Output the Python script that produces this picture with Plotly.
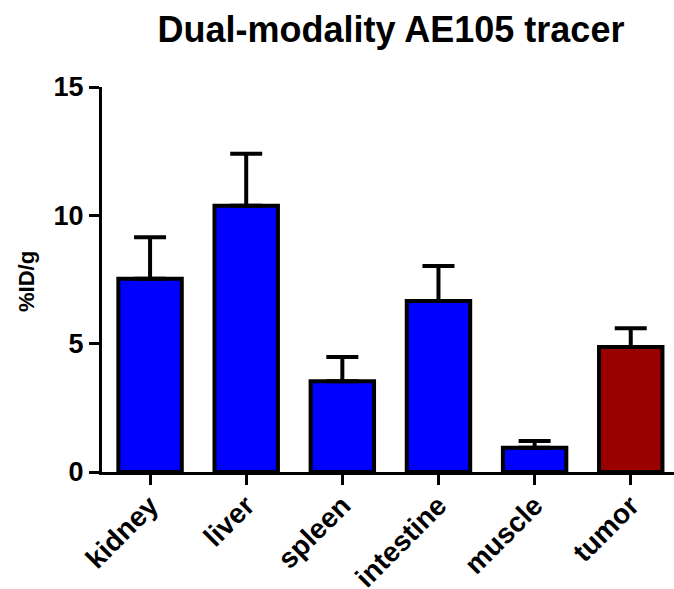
import plotly.graph_objects as go

categories = ["kidney", "liver", "spleen", "intestine", "muscle", "tumor"]
means = [7.53, 10.37, 3.54, 6.66, 0.94, 4.87]
errors = [1.62, 2.03, 0.94, 1.37, 0.27, 0.73]
colors = ["#0000FF", "#0000FF", "#0000FF", "#0000FF", "#0000FF", "#9B0000"]
y_ticks = [0, 5, 10, 15]

FONT = "Liberation Sans, Arial, sans-serif"
W, H = 674, 589
L, R, T, B = 102, 0, 87, 117
pw, ph = W - L - R, H - T - B

fig = go.Figure()
fig.add_trace(go.Bar(
    x=categories,
    y=means,
    width=0.66,
    marker=dict(color=colors, line=dict(color="black", width=4)),
    error_y=dict(type="data", symmetric=False, array=errors,
                 arrayminus=[0] * len(errors),
                 color="black", thickness=4, width=16),
))

fig.update_layout(
    width=W, height=H,
    margin=dict(l=L, r=R, t=T, b=B),
    paper_bgcolor="white", plot_bgcolor="white",
    showlegend=False,
    title=dict(text="Dual-modality AE105 tracer", x=391 / W, xref="container",
               xanchor="center", y=1 - 29 / H, yref="container", yanchor="middle",
               font=dict(family=FONT, size=36, color="black", weight="bold")),
    annotations=[dict(text="%ID/g", textangle=-90,
                      x=(26 - L) / pw, y=(H - B - 282) / ph,
                      xref="paper", yref="paper", showarrow=False,
                      xanchor="center", yanchor="middle",
                      font=dict(family=FONT, size=22, color="black", weight="bold"))],
)

fig.update_xaxes(
    range=[-0.5, 5.45], showline=True, linecolor="black", linewidth=3,
    ticks="outside", ticklen=10, tickwidth=3, tickcolor="black",
    tickangle=-45, showgrid=False, zeroline=False, automargin=False,
    ticklabelstandoff=-7,
    tickfont=dict(family=FONT, size=28, color="black", weight="bold"),
)
fig.update_yaxes(
    range=[0, 15], tickvals=y_ticks, showline=True, linecolor="black", linewidth=3,
    ticks="outside", ticklen=10, tickwidth=3, tickcolor="black",
    showgrid=False, zeroline=False, automargin=False,
    tickfont=dict(family=FONT, size=27, color="black", weight="bold"),
)

fig.write_html("out.html", config={"displayModeBar": False},
               post_script="document.body.style.margin='0';document.body.style.overflow='hidden';")
